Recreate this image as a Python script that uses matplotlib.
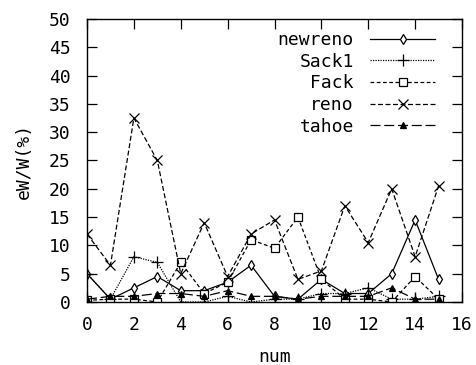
import matplotlib
matplotlib.use("Agg")
import matplotlib.pyplot as plt

# loss ratio per run, one list per TCP variant
num = list(range(16))
newreno = [5, 0.5, 2.5, 4.5, 2, 2, 3.5, 6.5, 1, 0.5, 4, 1.5, 1.5, 5, 14.5, 4]
sack1 = [5, 0.5, 8, 7, 0, 0, 1, 0, 0.5, 0.5, 1.5, 1.5, 2.5, 0.5, 0.5, 1]
fack = [0.3, 0.5, 0.5, 0, 7, 1.5, 3.5, 11, 9.5, 15, 4, 0.5, 0.5, 0, 4.5, 0.5]
reno = [12, 6.5, 32.5, 25, 5, 14, 4.5, 12, 14.5, 4, 5.5, 17, 10.5, 20, 8, 20.5]
tahoe = [0.5, 1, 1, 1.5, 1.5, 1, 2, 1, 1, 0.5, 1, 1, 1, 2.5, 0.5, 0.5]

series = [
    ("newreno", newreno, dict(ls="-", marker="d", mfc="white", ms=5)),
    ("Sack1", sack1, dict(ls=(0, (1, 1)), marker="+", ms=8)),
    ("Fack", fack, dict(ls=(0, (3, 2)), marker="s", mfc="white", ms=6)),
    ("reno", reno, dict(ls=(0, (4, 2)), marker="x", ms=7)),
    ("tahoe", tahoe, dict(ls=(0, (8, 3)), marker="^", ms=5)),
]

plt.rcParams["font.family"] = "DejaVu Sans Mono"
plt.rcParams["font.size"] = 13

fig = plt.figure(figsize=(4.77, 3.65), dpi=100)
ax = fig.add_axes([0.1824, 0.1726, 0.7862, 0.7754])

for name, vals, style in series:
    ax.plot(num, vals, color="black", lw=0.9, mec="black", mew=0.9,
            label=name, **style)

ax.set_xlim(0, 16)
ax.set_ylim(0, 50)
ax.set_xticks(range(0, 17, 2))
ax.set_yticks(range(0, 51, 5))
ax.tick_params(direction="in", length=7.5, width=0.9, top=True, right=True,
               labelsize=13)
ax.tick_params(axis="y", pad=12)
ax.tick_params(axis="x", pad=10)
for sp in ax.spines.values():
    sp.set_linewidth(1.0)

ax.set_xlabel("num", labelpad=10)
ax.set_ylabel("eW/W(%)", labelpad=11)

ax.legend(loc="upper right", bbox_to_anchor=(0.928, 0.957), frameon=False,
          markerfirst=False, alignment="right", handlelength=3.6,
          labelspacing=0.2, handletextpad=0.9, borderaxespad=0.0,
          borderpad=0.0)

fig.savefig("out.png", dpi=100)
